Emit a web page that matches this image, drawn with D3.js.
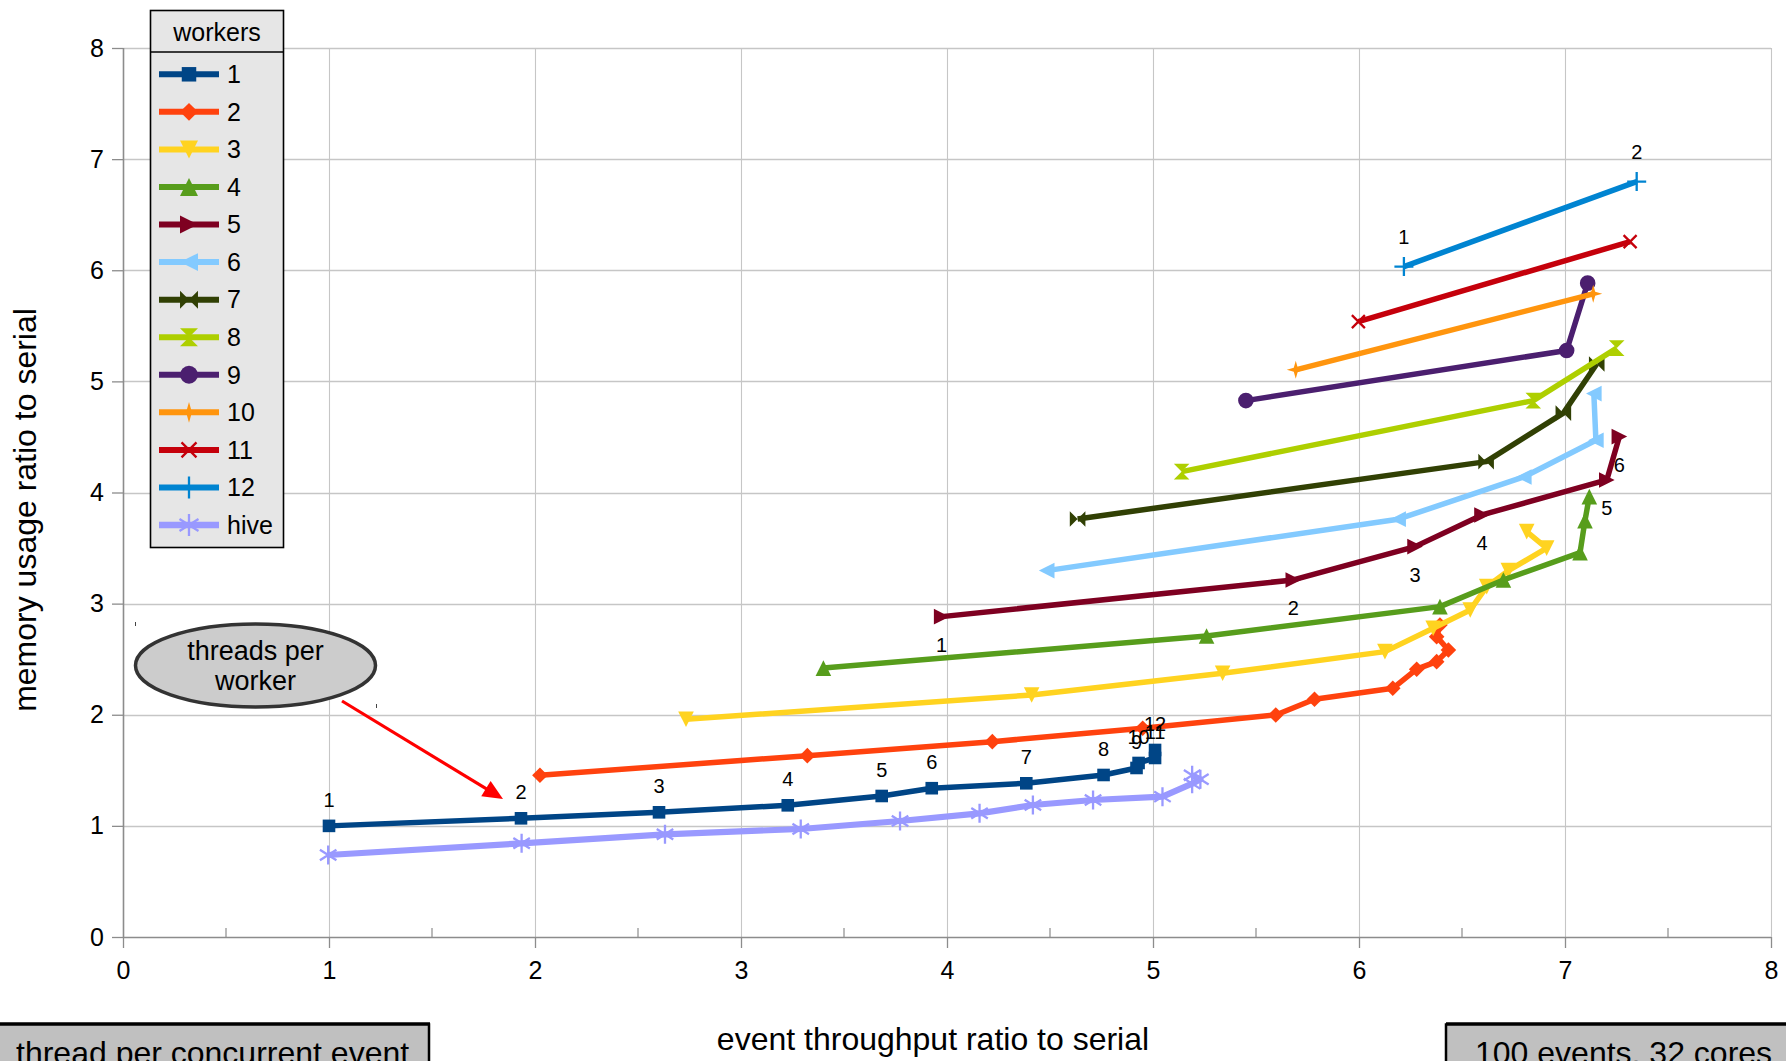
<!DOCTYPE html>
<html><head><meta charset="utf-8">
<script src="https://cdn.jsdelivr.net/npm/d3@7"></script>
<style>html,body{margin:0;padding:0;background:#fff;} svg{display:block;font-family:"Liberation Sans",Arial,sans-serif;}</style>
</head><body><svg id="c" width="1786" height="1061"></svg>
<script>
// ---------- data ----------
const legendNames = ["1","2","3","4","5","6","7","8","9","10","11","12","hive"];
const w1 = [[1.0,1.0],[1.932,1.068],[2.602,1.122],[3.227,1.185],[3.683,1.269],[3.926,1.339],[4.385,1.383],[4.76,1.458],[4.92,1.521],[4.93,1.566],[5.01,1.611],[5.01,1.683]];
const w2 = [[2.024,1.455],[3.322,1.632],[4.22,1.758],[4.95,1.878],[5.596,1.998],[5.784,2.139],[6.164,2.238],[6.28,2.41],[6.377,2.478],[6.434,2.583],[6.377,2.703],[6.393,2.808]];
const w3 = [[2.733,1.959],[4.411,2.178],[5.338,2.373],[6.126,2.568],[6.36,2.778],[6.54,2.943],[6.62,3.153],[6.725,3.297],[6.911,3.499],[6.814,3.648]];
const w4 = [[3.40,2.42],[5.26,2.709],[6.393,2.973],[6.701,3.213],[7.073,3.459],[7.097,3.747],[7.118,3.963]];
const w5 = [[3.974,2.883],[5.681,3.213],[6.272,3.513],[6.597,3.798],[7.203,4.113],[7.264,4.503]];
const w6 = [[4.484,3.297],[6.19,3.76],[6.80,4.14],[7.15,4.47],[7.14,4.89]];
const w7 = [[4.634,3.762],[6.617,4.278],[6.992,4.714],[7.154,5.157]];
const w8 = [[5.139,4.188],[6.846,4.827],[7.251,5.299]];
const w9 = [[5.451,4.827],[7.008,5.278],[7.110,5.884]];
const w10 = [[5.693,5.104],[7.137,5.788]];
const w11 = [[5.997,5.538],[7.316,6.258]];
const w12 = [[6.218,6.033],[7.348,6.798]];
const hive = [[0.996,0.738],[1.935,0.843],[2.631,0.924],[3.29,0.972],[3.772,1.044],[4.158,1.113],[4.417,1.188],[4.709,1.233],[5.046,1.263],[5.19,1.38],[5.23,1.42],[5.19,1.455]];
const labels1 = ["1","2","3","4","5","6","7","8","9","10","11","12"];
const labels5 = ["1","2","3","4","5","6"];
const labels12 = ["1","2"];
const xTickValues = [0,1,2,3,4,5,6,7,8];
const yTickValues = [0,1,2,3,4,5,6,7,8];
const xMinorTicks = [0.5,1.5,2.5,3.5,4.5,5.5,6.5,7.5];
const xTitle = "event throughput ratio to serial";
const yTitle = "memory usage ratio to serial";
const legendTitle = "workers";
const calloutLines = ["threads per","worker"];
const leftNote = "thread per concurrent event";
const rightNote = "100 events, 32 cores";

// ---------- styles ----------
const colors = ["#004586","#ff420e","#ffd320","#579d1c","#7e0021","#83caff","#314004","#aecf00","#4b1f6f","#ff950e","#c5000b","#0084d1","#9999ff"];
const markers = ["square","diamond","down","up","right","left","bowtie","hourglass","circle","star","x","plus","asterisk"];
const seriesData = [w1,w2,w3,w4,w5,w6,w7,w8,w9,w10,w11,w12,hive];

const svg = d3.select("#c");
const x = d3.scaleLinear().domain([0,8]).range([123,1771]);
const y = d3.scaleLinear().domain([0,8]).range([937,48]);

function markerPath(t, s){
  switch(t){
    case "square": return `M${-s},${-s}H${s}V${s}H${-s}Z`;
    case "diamond": return `M0,${-s}L${s},0L0,${s}L${-s},0Z`;
    case "down": return `M${-s},${-s}L${s},${-s}L0,${s}Z`;
    case "up": return `M${-s},${s}L${s},${s}L0,${-s}Z`;
    case "right": return `M${-s},${-s}L${s},0L${-s},${s}Z`;
    case "left": return `M${s},${-s}L${-s},0L${s},${s}Z`;
    case "bowtie": return `M${-s},${-s}L${s},${s}L${s},${-s}L${-s},${s}Z`;
    case "hourglass": return `M${-s},${-s}L${s},${-s}L${-s},${s}L${s},${s}Z`;
    case "circle": return `M${-s},0A${s},${s} 0 1,0 ${s},0A${s},${s} 0 1,0 ${-s},0Z`;
    case "star": {const k=s*0.22; return `M0,${-s}L${k},${-k}L${s},0L${k},${k}L0,${s}L${-k},${k}L${-s},0L${-k},${-k}Z`;}
    case "x": return `M${-s},${-s}L${s},${s}M${-s},${s}L${s},${-s}`;
    case "plus": return `M${-s},0H${s}M0,${-s}V${s}`;
    case "asterisk": {const a=s*0.87,b=s*0.55; return `M0,${-s}V${s}M${-a},${-b}L${a},${b}M${-a},${b}L${a},${-b}`;}
  }
}
const strokeOnly = t => t==="x"||t==="plus"||t==="asterisk";
function markerSize(t){
  if(t==="square") return 6.3;
  if(t==="plus"||t==="asterisk") return 9.5;
  if(t==="x") return 6.5;
  if(t==="star") return 9;
  if(t==="circle") return 7.8;
  return 7.8;
}

// ---------- grid ----------
const grid = svg.append("g");
grid.selectAll(".hg").data(yTickValues.filter(d=>d>0)).join("line")
  .attr("x1",x(0)).attr("x2",x(8)).attr("y1",d=>Math.round(y(d))+0.5).attr("y2",d=>Math.round(y(d))+0.5)
  .attr("stroke","#c6c6c6").attr("stroke-width",1.3);
grid.selectAll(".vg").data(xTickValues.filter(d=>d>0)).join("line")
  .attr("y1",y(8)).attr("y2",y(0)).attr("x1",d=>Math.round(x(d))+0.5).attr("x2",d=>Math.round(x(d))+0.5)
  .attr("stroke","#c6c6c6").attr("stroke-width",1.1);

// ---------- axes ----------
const yAxis = svg.append("g").attr("transform",`translate(${x(0)},0)`)
  .call(d3.axisLeft(y).tickValues(yTickValues).tickFormat(d=>String(d)).tickSize(11).tickPadding(8));
const xAxis = svg.append("g").attr("transform",`translate(0,${y(0)})`)
  .call(d3.axisBottom(x).tickValues(xTickValues).tickFormat(d=>String(d)).tickSize(11).tickPadding(13));
[yAxis,xAxis].forEach(a=>{
  a.select(".domain").attr("stroke","#8c8c8c").attr("stroke-width",1.6);
  a.selectAll(".tick line").attr("stroke","#8c8c8c").attr("stroke-width",1.3);
  a.selectAll("text").attr("font-size",25).attr("fill","#000").attr("font-family",'"Liberation Sans",Arial,sans-serif');
});
xAxis.select(".domain").attr("d",`M${x(0)},0.5H${x(8)}`);
yAxis.select(".domain").attr("d",`M0.5,${y(8)}V${y(0)}`);
svg.append("g").selectAll("line").data(xMinorTicks).join("line")
  .attr("x1",d=>x(d)).attr("x2",d=>x(d)).attr("y1",y(0)-9).attr("y2",y(0))
  .attr("stroke","#8c8c8c").attr("stroke-width",1.2);

// ---------- series ----------
const line = d3.line().x(d=>x(d[0])).y(d=>y(d[1]));
const sg = svg.append("g");
seriesData.forEach((data,i)=>{
  const g = sg.append("g");
  g.append("path").attr("d",line(data)).attr("fill","none").attr("stroke",colors[i])
    .attr("stroke-width",i===12?6.2:5.5).attr("stroke-linejoin","round").attr("stroke-linecap","butt");
  const t = markers[i], s = markerSize(t);
  g.selectAll("path.m").data(data).join("path").attr("class","m")
    .attr("transform",d=>`translate(${x(d[0])},${y(d[1])})`)
    .attr("d",markerPath(t,s))
    .attr("fill",strokeOnly(t)?"none":colors[i])
    .attr("stroke",strokeOnly(t)?colors[i]:"none")
    .attr("stroke-width",strokeOnly(t)?2.3:0);
});

// ---------- data labels ----------
function addLabels(data, labels, dy){
  svg.append("g").selectAll("text").data(data).join("text")
    .attr("x",d=>x(d[0])).attr("y",d=>y(d[1])+dy)
    .attr("text-anchor","middle").attr("font-size",20).attr("fill","#000")
    .text((d,i)=>labels[i]);
}
addLabels(w1, labels1, -19);
addLabels(w5, labels5, 35);
addLabels(w12, labels12, -23);

// ---------- legend ----------
const lg = svg.append("g");
lg.append("rect").attr("x",150.5).attr("y",10.5).attr("width",133).attr("height",537).attr("fill","#e6e6e6").attr("stroke","#000").attr("stroke-width",1.6);
lg.append("line").attr("x1",150.5).attr("x2",283.5).attr("y1",52).attr("y2",52).attr("stroke","#000").attr("stroke-width",1.6);
lg.append("text").attr("x",217).attr("y",41).attr("text-anchor","middle").attr("font-size",25).text(legendTitle);
legendNames.forEach((n,i)=>{
  const ry = 74.3 + i*37.56;
  lg.append("line").attr("x1",159).attr("x2",219).attr("y1",ry).attr("y2",ry).attr("stroke",colors[i]).attr("stroke-width",i===12?6.5:6);
  const t = markers[i], s = markerSize(t)*1.15;
  lg.append("path").attr("transform",`translate(189,${ry})`).attr("d",markerPath(t,s))
    .attr("fill",strokeOnly(t)?"none":colors[i]).attr("stroke",strokeOnly(t)?colors[i]:"none").attr("stroke-width",strokeOnly(t)?2.3:0);
  lg.append("text").attr("x",227).attr("y",ry+8.8).attr("font-size",25).text(n);
});

// ---------- axis titles ----------
svg.append("text").attr("transform","translate(25,510) rotate(-90)").attr("dy","0.35em")
  .attr("text-anchor","middle").attr("font-size",32).text(yTitle);
svg.append("text").attr("x",933).attr("y",1050).attr("text-anchor","middle").attr("font-size",32).text(xTitle);

// ---------- callout ----------
svg.append("ellipse").attr("cx",255.5).attr("cy",665.5).attr("rx",120).attr("ry",41.5)
  .attr("fill","#cccccc").attr("stroke","#333").attr("stroke-width",3.5);
svg.append("text").attr("x",255.5).attr("y",660).attr("text-anchor","middle").attr("font-size",27).text(calloutLines[0]);
svg.append("text").attr("x",255.5).attr("y",690).attr("text-anchor","middle").attr("font-size",27).text(calloutLines[1]);
svg.append("line").attr("x1",135.5).attr("x2",135.5).attr("y1",622).attr("y2",626).attr("stroke","#444").attr("stroke-width",1);
svg.append("line").attr("x1",376.5).attr("x2",376.5).attr("y1",704).attr("y2",708).attr("stroke","#444").attr("stroke-width",1);
// arrow
const ax0=342, ay0=701, ax1=503, ay1=799;
const L = Math.hypot(ax1-ax0, ay1-ay0), ux=(ax1-ax0)/L, uy=(ay1-ay0)/L;
const hl=20, hw=9;
svg.append("line").attr("x1",ax0).attr("y1",ay0).attr("x2",ax1-ux*hl*0.8).attr("y2",ay1-uy*hl*0.8)
  .attr("stroke","#ff0000").attr("stroke-width",3.2);
svg.append("path").attr("d",`M${ax1},${ay1}L${ax1-ux*hl-uy*hw},${ay1-uy*hl+ux*hw}L${ax1-ux*hl+uy*hw},${ay1-uy*hl-ux*hw}Z`).attr("fill","#ff0000");

// ---------- notes ----------
svg.append("rect").attr("x",-5).attr("y",1024.5).attr("width",434).attr("height",60).attr("fill","#c0c0c0").attr("stroke","#000").attr("stroke-width",2.5);
svg.append("line").attr("x1",-5).attr("x2",430).attr("y1",1023.5).attr("y2",1023.5).attr("stroke","#000").attr("stroke-width",2.5);
svg.append("text").attr("x",16).attr("y",1064).attr("font-size",32).text(leftNote);
svg.append("rect").attr("x",1446).attr("y",1024.5).attr("width",400).attr("height",60).attr("fill","#c0c0c0").attr("stroke","#000").attr("stroke-width",2.5);
svg.append("line").attr("x1",1446).attr("x2",1800).attr("y1",1023.5).attr("y2",1023.5).attr("stroke","#000").attr("stroke-width",2.5);
svg.append("text").attr("x",1475).attr("y",1064).attr("font-size",32).text(rightNote);
</script></body></html>
